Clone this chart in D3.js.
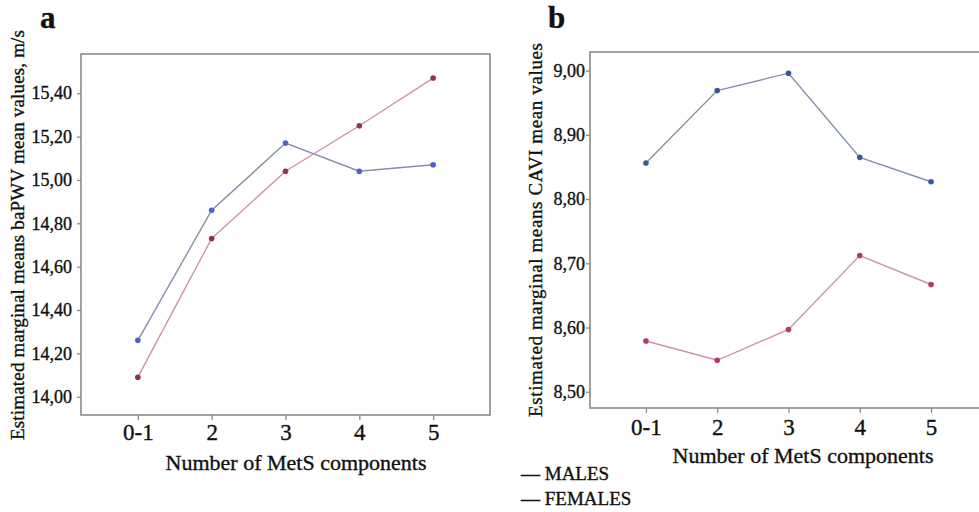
<!DOCTYPE html>
<html>
<head>
<meta charset="utf-8">
<script src="https://cdn.jsdelivr.net/npm/d3@7"></script>
<style>
  html, body { margin: 0; padding: 0; background: #fff; }
  svg { display: block; }
  svg text { font-family: "Liberation Serif", "Times New Roman", Tinos, "DejaVu Serif", serif; stroke: #111; stroke-width: 0.35px; }
</style>
</head>
<body>
<svg id="chart" width="979" height="512"></svg>
<script>
// Data
const categories = ['0-1', '2', '3', '4', '5'];
const baMales = [14.26, 14.86, 15.17, 15.04, 15.07];
const baFemales = [14.09, 14.73, 15.04, 15.25, 15.47];
const caviMales = [8.856, 8.969, 8.996, 8.865, 8.827];
const caviFemales = [8.579, 8.549, 8.597, 8.712, 8.667];
const baTicks = [14.0, 14.2, 14.4, 14.6, 14.8, 15.0, 15.2, 15.4];
const caviTicks = [8.5, 8.6, 8.7, 8.8, 8.9, 9.0];
const legendLabels = ['MALES', 'FEMALES'];

const svg = d3.select('#chart');
const fmt = d => d3.format('.2f')(d).replace('.', ',');

const maleLine = '#8190b0', femaleLine = '#cc94a6';

function drawPanel(p) {
  const x = d3.scalePoint()
    .domain(categories)
    .range([p.left, p.right])
    .padding(p.xPad);

  const y = d3.scaleLinear()
    .domain(p.yDomain)
    .range([p.bottom, p.top]);

  const g = svg.append('g');

  // frame
  g.append('rect')
    .attr('x', p.left)
    .attr('y', p.top)
    .attr('width', p.right - p.left)
    .attr('height', p.bottom - p.top)
    .attr('fill', 'none')
    .attr('stroke', '#8a8a8a')
    .attr('stroke-width', 1.6);

  // y axis
  const yAxis = g.append('g')
    .attr('transform', `translate(${p.left},0)`)
    .call(d3.axisLeft(y).tickValues(p.ticks).tickFormat(fmt).tickSize(4).tickPadding(p.yPadding));
  yAxis.attr('font-family', null);
  yAxis.select('.domain').remove();
  yAxis.selectAll('line').attr('stroke', '#8a8a8a').attr('stroke-width', 1.3);
  yAxis.selectAll('text')
    .attr('font-size', 18)
    .attr('fill', '#111');

  // x axis
  const xAxis = g.append('g')
    .attr('transform', `translate(0,${p.bottom})`)
    .call(d3.axisBottom(x).tickSize(5));
  xAxis.attr('font-family', null);
  xAxis.select('.domain').remove();
  xAxis.selectAll('line').attr('stroke', '#8a8a8a').attr('stroke-width', 1.3);
  xAxis.selectAll('text')
    .attr('dy', null)
    .attr('y', p.xLabelOffset)
    .attr('font-size', 23)
    .attr('fill', '#111');

  // lines and points
  const line = d3.line()
    .x((d, i) => x(categories[i]))
    .y(d => y(d));

  p.series.forEach(s => {
    g.append('path')
      .datum(s.values)
      .attr('d', line)
      .attr('fill', 'none')
      .attr('stroke', s.line)
      .attr('stroke-width', 1.4);

    g.selectAll(null)
      .data(s.values)
      .enter()
      .append('circle')
      .attr('cx', (d, i) => x(categories[i]))
      .attr('cy', d => y(d))
      .attr('r', 2.8)
      .attr('fill', s.point);
  });

  // axis titles
  svg.append('text')
    .attr('text-anchor', 'middle')
    .attr('x', p.xTitleX)
    .attr('y', p.xTitleY)
    .attr('font-size', 22)
    .attr('fill', '#111')
    .text('Number of MetS components');

  svg.append('text')
    .attr('text-anchor', 'middle')
    .attr('transform', `translate(${p.yTitleX},${p.yTitleY}) rotate(-90)`)
    .attr('font-size', 19)
    .attr('fill', '#111')
    .attr('textLength', p.yTitleLen)
    .attr('lengthAdjust', 'spacing')
    .text(p.yTitle);

  // panel letter
  svg.append('text')
    .attr('x', p.letterX)
    .attr('y', 28)
    .attr('font-size', 31)
    .attr('font-weight', 'bold')
    .attr('fill', '#111')
    .text(p.letter);
}

drawPanel({
  letter: 'a', letterX: 40,
  left: 81, right: 490, top: 54, bottom: 415,
  xPad: 0.77, yDomain: [13.9155, 15.581], ticks: baTicks, yPadding: 5,
  xLabelOffset: 25,
  xTitleX: 296, xTitleY: 470,
  yTitle: 'Estimated marginal means baPWV mean values, m/s',
  yTitleX: 24, yTitleY: 235, yTitleLen: 410,
  series: [
    { values: baMales, line: maleLine, point: '#4f5fd2' },
    { values: baFemales, line: femaleLine, point: '#8e3252' }
  ]
});

drawPanel({
  letter: 'b', letterX: 548,
  left: 590, right: 987, top: 52, bottom: 408,
  xPad: 0.785, yDomain: [8.4747, 9.029], ticks: caviTicks, yPadding: 1,
  xLabelOffset: 27,
  xTitleX: 803, xTitleY: 463,
  yTitle: 'Estimated marginal means  CAVI  mean values',
  yTitleX: 542, yTitleY: 230, yTitleLen: 374,
  series: [
    { values: caviMales, line: maleLine, point: '#3a5898' },
    { values: caviFemales, line: femaleLine, point: '#b03a6c' }
  ]
});

// legend
svg.selectAll('.legend')
  .data(legendLabels)
  .enter()
  .append('text')
  .attr('class', 'legend')
  .attr('x', 521)
  .attr('y', (d, i) => 480 + i * 25)
  .attr('font-size', 19)
  .attr('fill', '#111')
  .text(d => '\u2014 ' + d);
</script>
</body>
</html>
